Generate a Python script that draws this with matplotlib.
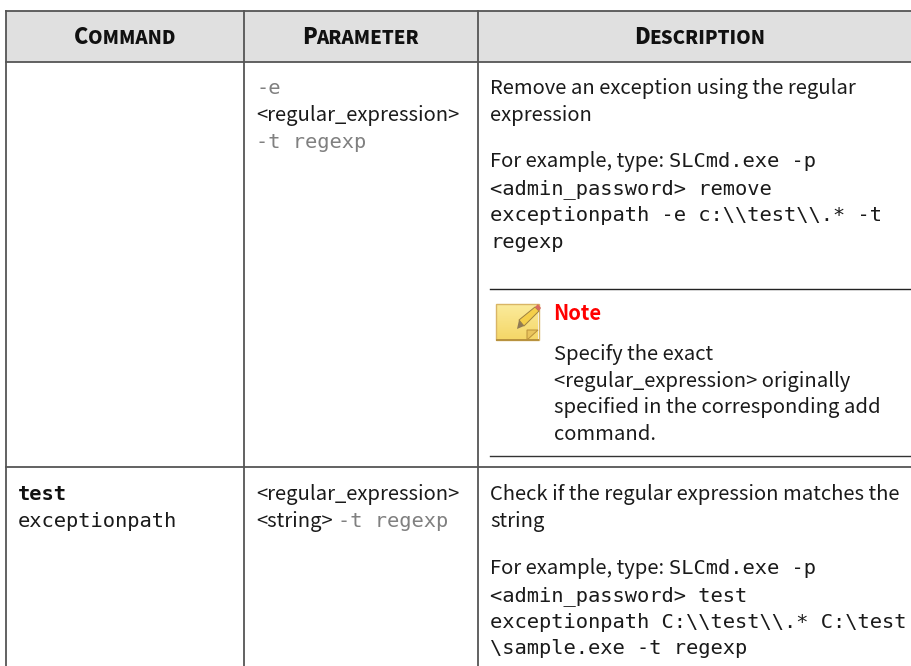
import numpy as np
import matplotlib
matplotlib.use("Agg")
import matplotlib.pyplot as plt
from matplotlib.colors import LinearSegmentedColormap
from matplotlib.patches import Rectangle, Polygon

SANS = ["Noto Sans CJK JP", "DejaVu Sans"]
MONO = "DejaVu Sans Mono"

# table contents
headers = ["Command", "Parameter", "Description"]
param_1 = ["-e", "<regular_expression>", "-t regexp"]
desc_1 = ["Remove an exception using the regular", "expression"]
example_lead = "For example, type: "
example_1_first = "SLCmd.exe -p"
example_1 = ["<admin_password> remove", "exceptionpath -e c:\\\\test\\\\.* -t", "regexp"]
note_title = "Note"
note_lines = ["Specify the exact", "<regular_expression> originally",
              "specified in the corresponding add", "command."]
cmd_2_bold = "test"
cmd_2 = "exceptionpath"
param_2 = ["<regular_expression>", "<string>", "-t regexp"]
desc_2 = ["Check if the regular expression matches the", "string"]
example_2_first = "SLCmd.exe -p"
example_2 = ["<admin_password> test", "exceptionpath C:\\\\test\\\\.* C:\\test",
             "\\sample.exe -t regexp"]

fig = plt.figure(figsize=(9.11, 6.66), dpi=100)
ax = fig.add_axes([0, 0, 1, 1])
renderer = fig.canvas.get_renderer()

LINE = "#555555"
BODY = "#1a1a1a"
BODY_SIZE = 14.55
MONO_SIZE = 14.65


def sans(x, y, s, **kw):
    kw.setdefault("fontsize", BODY_SIZE)
    kw.setdefault("color", BODY)
    return ax.text(x, y, s, family=SANS, va="baseline", **kw)


def mono(x, y, s, **kw):
    kw.setdefault("fontsize", MONO_SIZE)
    kw.setdefault("color", BODY)
    return ax.text(x, y, s, family=MONO, va="baseline", **kw)


def small_caps(xc, y, word):
    # first letter large, rest small, centred as a pair
    a = ax.text(0, y, word[0].upper(), family=SANS, weight=900, fontsize=15.5,
                color="#111111", va="baseline")
    b = ax.text(0, y, word[1:].upper(), family=SANS, weight=900, fontsize=13.4,
                color="#111111", va="baseline")
    wa = a.get_window_extent(renderer).width
    wb = b.get_window_extent(renderer).width
    left = xc - (wa + wb) / 2
    a.set_x(left)
    b.set_x(left + wa - 0.5)


# note icon body with a soft vertical gradient
paper = LinearSegmentedColormap.from_list("paper", ["#fbeb9c", "#f5d768"])
ax.imshow(np.linspace(0, 1, 40).reshape(-1, 1), cmap=paper, extent=(496, 538, 339, 304),
          aspect="auto", zorder=1)

ax.set_xlim(0, 911)
ax.set_ylim(666, 0)
ax.axis("off")

# header band and grid
ax.add_patch(Rectangle((6, 11), 905, 51, facecolor="#e0e0e0", edgecolor="none", zorder=0))
ax.plot([6, 911], [11, 11], color=LINE, lw=1.3)
ax.plot([6, 911], [62, 62], color=LINE, lw=1.3)
ax.plot([6, 911], [467, 467], color=LINE, lw=1.3)
ax.plot([6, 6], [11, 666], color=LINE, lw=1.3)
ax.plot([244, 244], [11, 666], color=LINE, lw=1.3)
ax.plot([478, 478], [11, 666], color=LINE, lw=1.3)

small_caps(125, 44, headers[0])
small_caps(361, 44, headers[1])
small_caps(700, 44, headers[2])

# first row, parameter column
mono(256, 94, param_1[0], color="#808080")
sans(256, 121, param_1[1])
mono(256, 148, param_1[2], color="#808080")

# first row, description column
sans(490, 94, desc_1[0])
sans(490, 121, desc_1[1])
t = sans(490, 167, example_lead)
mono(490 + t.get_window_extent(renderer).width, 167, example_1_first)
for y, s in zip([194, 221, 248], example_1):
    mono(490, y, s)

# note block
ax.plot([490, 911], [289, 289], color="#222222", lw=1.0)
ax.plot([490, 911], [456, 456], color="#333333", lw=1.0)
ax.add_patch(Rectangle((495.5, 303.5), 43, 36, facecolor="none", edgecolor="#d9b565", lw=1.0, zorder=2))
ax.add_patch(Rectangle((495.5, 338.5), 43, 2.5, facecolor="#b8923f", edgecolor="none", zorder=2))
ax.add_patch(Polygon([[527, 340], [538, 330], [527, 330]], facecolor="#e9c45c",
                     edgecolor="#b98f3a", lw=0.7, zorder=3))
ax.add_patch(Polygon([[519, 320], [535, 307], [539, 311], [524, 326]], facecolor="#f5cf4a",
                     edgecolor="#9d8040", lw=0.7, zorder=3))
ax.add_patch(Polygon([[519, 320], [524, 326], [517, 329]], facecolor="#8f7a55", edgecolor="none", zorder=3))
ax.add_patch(Polygon([[535, 307], [538, 304], [541, 308], [539, 311]], facecolor="#d96a5f",
                     edgecolor="none", zorder=3))
sans(553, 320, note_title, weight="bold", color="#ff0000", fontsize=14.6)
for y, s in zip([360, 387, 413, 440], note_lines):
    sans(554, y, s)

# second row
mono(18, 500, cmd_2_bold, weight="bold", color="#111111")
mono(18, 527, cmd_2)
sans(256, 500, param_2[0])
t = sans(256, 527, param_2[1])
mono(256 + t.get_window_extent(renderer).width + 5, 527, param_2[2], color="#808080")

sans(490, 500, desc_2[0])
sans(490, 527, desc_2[1])
t = sans(490, 574, example_lead)
mono(490 + t.get_window_extent(renderer).width, 574, example_2_first)
for y, s in zip([601, 628, 654], example_2):
    mono(490, y, s)

fig.savefig("out.png", dpi=100)
